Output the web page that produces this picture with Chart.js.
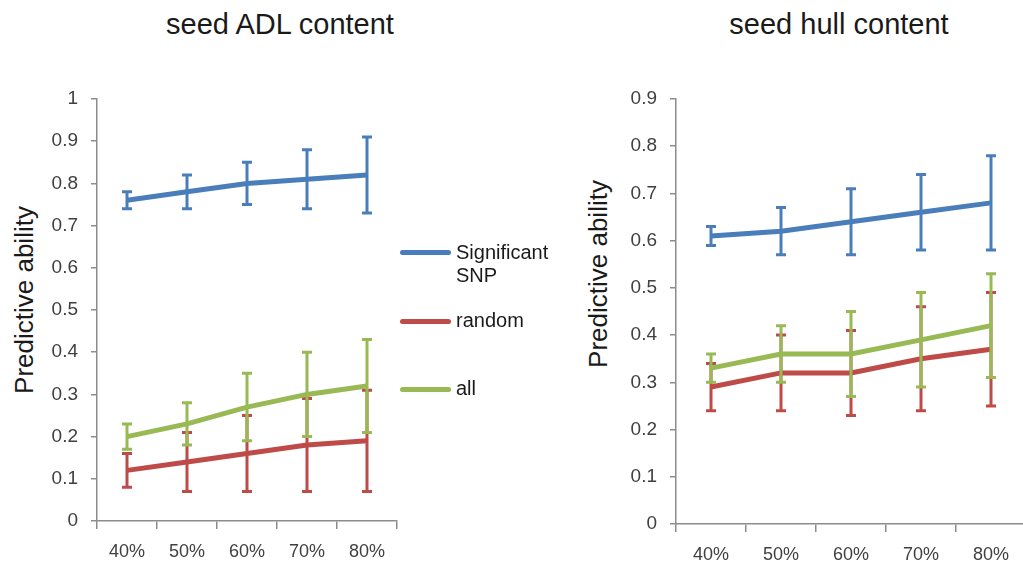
<!DOCTYPE html>
<html>
<head>
<meta charset="utf-8">
<script src="https://cdn.jsdelivr.net/npm/chart.js@4.4.1/dist/chart.umd.min.js"></script>
<style>
  html, body { margin: 0; padding: 0; background: #fff; overflow: hidden; }
  body { width: 1023px; height: 573px; position: relative; font-family: 'Liberation Sans', Arial, sans-serif; color: #1a1a1a; }
  .box { position: absolute; }
  .title { position: absolute; top: 8px; font-size: 29px; white-space: nowrap; transform: translateX(-50%); }
  .ylab { position: absolute; font-size: 26px; white-space: nowrap; transform: translate(-50%, -50%) rotate(-90deg); }
  .legend { position: absolute; left: 400px; font-size: 20px; line-height: 23px; }
  .legend .sw { position: absolute; left: 0; width: 51px; height: 5px; border-radius: 3px; }
  .legend .tx { position: absolute; left: 56px; white-space: nowrap; }
</style>
</head>
<body>
<div class="title" style="left:280px">seed ADL content</div>
<div class="title" style="left:839px">seed hull content</div>
<div class="ylab" style="left:24px; top:300px">Predictive ability</div>
<div class="ylab" style="left:598px; top:274px">Predictive ability</div>

<div class="box" style="left:0; top:0; width:410px; height:573px"><canvas id="adl"></canvas></div>
<div class="box" style="left:560px; top:0; width:480px; height:573px"><canvas id="hull"></canvas></div>

<div class="legend" style="top:0">
  <div class="sw" style="top:250px; background:#4a7ebb"></div>
  <div class="tx" style="top:241px">Significant<br>SNP</div>
  <div class="sw" style="top:319px; background:#be4b48"></div>
  <div class="tx" style="top:309px">random</div>
  <div class="sw" style="top:387px; background:#98b954"></div>
  <div class="tx" style="top:377px">all</div>
</div>

<script>
  const percentLabels = ['40%', '50%', '60%', '70%', '80%'];
  const seriesNames = ['Significant SNP', 'random', 'all'];
  const seriesColors = ['#4a7ebb', '#be4b48', '#98b954'];

  // seed ADL content
  const adlSignificant = [0.76, 0.78, 0.80, 0.81, 0.82];
  const adlSignificantLow = [0.74, 0.74, 0.75, 0.74, 0.73];
  const adlSignificantHigh = [0.78, 0.82, 0.85, 0.88, 0.91];
  const adlRandom = [0.12, 0.14, 0.16, 0.18, 0.19];
  const adlRandomLow = [0.08, 0.07, 0.07, 0.07, 0.07];
  const adlRandomHigh = [0.16, 0.21, 0.25, 0.29, 0.31];
  const adlAll = [0.20, 0.23, 0.27, 0.30, 0.32];
  const adlAllLow = [0.17, 0.18, 0.19, 0.20, 0.21];
  const adlAllHigh = [0.23, 0.28, 0.35, 0.40, 0.43];

  // seed hull content
  const hullSignificant = [0.61, 0.62, 0.64, 0.66, 0.68];
  const hullSignificantLow = [0.59, 0.57, 0.57, 0.58, 0.58];
  const hullSignificantHigh = [0.63, 0.67, 0.71, 0.74, 0.78];
  const hullRandom = [0.29, 0.32, 0.32, 0.35, 0.37];
  const hullRandomLow = [0.24, 0.24, 0.23, 0.24, 0.25];
  const hullRandomHigh = [0.34, 0.40, 0.41, 0.46, 0.49];
  const hullAll = [0.33, 0.36, 0.36, 0.39, 0.42];
  const hullAllLow = [0.30, 0.30, 0.27, 0.29, 0.31];
  const hullAllHigh = [0.36, 0.42, 0.45, 0.49, 0.53];

  const axisColor = '#8c8c8c';
  const tickColor = '#404040';

  // draws the whiskers of each dataset right after its line
  const errorBars = {
    id: 'errorBars',
    afterDatasetDraw(chart, args) {
      const ds = chart.data.datasets[args.index];
      if (!ds.low) return;
      const y = chart.scales.y;
      const c = chart.ctx;
      c.save();
      c.strokeStyle = ds.borderColor;
      c.lineWidth = 3;
      args.meta.data.forEach((pt, i) => {
        const yl = y.getPixelForValue(ds.low[i]);
        const yh = y.getPixelForValue(ds.high[i]);
        c.beginPath();
        c.moveTo(pt.x, yl);
        c.lineTo(pt.x, yh);
        c.moveTo(pt.x - 5, yl);
        c.lineTo(pt.x + 5, yl);
        c.moveTo(pt.x - 5, yh);
        c.lineTo(pt.x + 5, yh);
        c.stroke();
      });
      c.restore();
    },
  };

  function makeDataset(i, values, low, high) {
    return {
      label: seriesNames[i],
      data: values,
      low,
      high,
      borderColor: seriesColors[i],
      backgroundColor: seriesColors[i],
      borderWidth: 5,
      pointRadius: 0,
      tension: 0,
      order: 3 - i,
    };
  }

  function makeChart(id, sets, yMax, yWidth, xHeight, padRight) {
    return new Chart(document.getElementById(id), {
      type: 'line',
      data: { labels: percentLabels, datasets: sets },
      plugins: [errorBars],
      options: {
        responsive: true,
        maintainAspectRatio: false,
        animation: false,
        layout: { padding: { top: 99, left: 0, right: padRight, bottom: 0 } },
        plugins: { legend: { display: false }, tooltip: { enabled: false } },
        scales: {
          x: {
            offset: true,
            grid: { offset: true, drawOnChartArea: false, drawTicks: true, tickLength: 8, color: axisColor, lineWidth: 1.5 },
            border: { color: axisColor, width: 1.5 },
            ticks: { color: tickColor, font: { size: 18, family: "'Liberation Sans', Arial" }, padding: 12, maxRotation: 0 },
            afterFit(s) { s.height = xHeight; },
          },
          y: {
            min: 0,
            max: yMax,
            grid: { drawOnChartArea: false, drawTicks: true, tickLength: 6, color: axisColor, lineWidth: 1.5 },
            border: { color: axisColor, width: 1.5 },
            ticks: {
              stepSize: 0.1,
              color: tickColor,
              font: { size: 19, family: "'Liberation Sans', Arial" },
              padding: 13,
              callback: (v) => String(Number(v.toFixed(1))),
            },
            afterFit(s) { s.width = yWidth; },
          },
        },
      },
    });
  }

  makeChart('adl', [
    makeDataset(0, adlSignificant, adlSignificantLow, adlSignificantHigh),
    makeDataset(1, adlRandom, adlRandomLow, adlRandomHigh),
    makeDataset(2, adlAll, adlAllLow, adlAllHigh),
  ], 1, 97, 52, 13);

  makeChart('hull', [
    makeDataset(0, hullSignificant, hullSignificantLow, hullSignificantHigh),
    makeDataset(1, hullRandom, hullRandomLow, hullRandomHigh),
    makeDataset(2, hullAll, hullAllLow, hullAllHigh),
  ], 0.9, 116, 49, 14);
</script>
</body>
</html>
